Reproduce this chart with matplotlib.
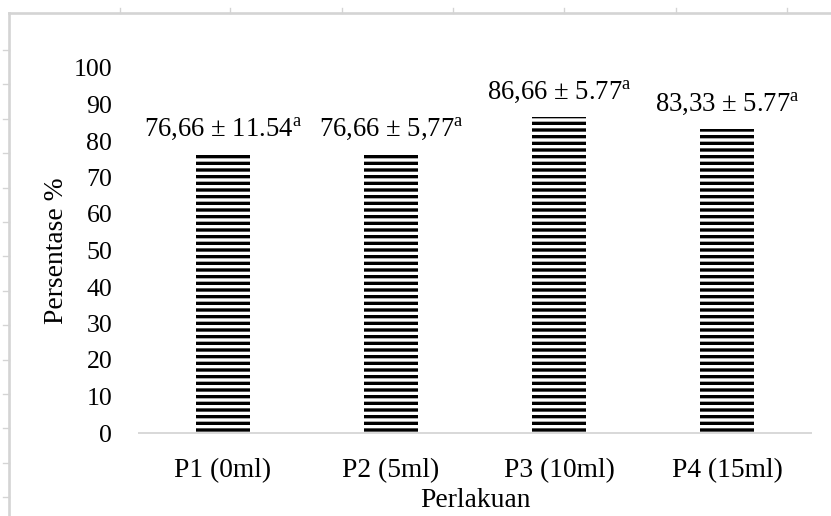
import matplotlib.pyplot as plt
from matplotlib.lines import Line2D

kategori = ["P1 (0ml)", "P2 (5ml)", "P3 (10ml)", "P4 (15ml)"]
persentase = [76.66, 76.66, 86.66, 83.33]
label_bar = [r"76,66 ± 11.54$^{\mathrm{a}}$", r"76,66 ± 5,77$^{\mathrm{a}}$",
             r"86,66 ± 5.77$^{\mathrm{a}}$", r"83,33 ± 5.77$^{\mathrm{a}}$"]
yticks = [0, 10, 20, 30, 40, 50, 60, 70, 80, 90, 100]

plt.rcParams['font.family'] = ['Liberation Serif', 'DejaVu Serif']
plt.rcParams['mathtext.fontset'] = 'custom'
plt.rcParams['mathtext.rm'] = 'Liberation Serif'
plt.rcParams['hatch.linewidth'] = 2.0

W, H, DPI = 831, 516, 120
fig = plt.figure(figsize=(W / DPI, H / DPI), dpi=DPI)
ax = fig.add_axes([139 / W, 83 / H, 672 / W, 365 / H])

x = range(len(kategori))
ax.bar(x, persentase, width=0.32, color="white", edgecolor="black",
       linewidth=0, hatch="---")
for i, v in enumerate(persentase):
    ax.annotate(label_bar[i], (i, v), xytext=(0, 7), textcoords="offset points",
                ha="center", va="bottom", fontsize=16)

ax.set_xlim(-0.5, len(kategori) - 0.5)
ax.set_ylim(0, 100)
ax.set_yticks(yticks)
ax.set_xticks(list(x))
ax.set_xticklabels(kategori)
ax.tick_params(axis="both", length=0)
ax.tick_params(axis="x", pad=15, labelsize=16.5)
ax.tick_params(axis="y", pad=16, labelsize=15.5)
ax.set_xlabel("Perlakuan", fontsize=16.5, labelpad=3)
ax.set_ylabel("Persentase %", fontsize=16.5, labelpad=3)
for s in ["top", "right", "left"]:
    ax.spines[s].set_visible(False)
ax.spines["bottom"].set_color("#d9d9d9")
ax.spines["bottom"].set_linewidth(1.2)

# bingkai tangkapan layar (garis abu-abu di atas dan kiri)
abu = "#d4d4d4"
fig.add_artist(Line2D([9 / W, 1], [1 - 13 / H, 1 - 13 / H], color=abu, lw=1.6))
fig.add_artist(Line2D([9 / W, 9 / W], [0, 1 - 13 / H], color=abu, lw=1.6))
for px in [120, 230, 342, 453, 564, 676, 787]:
    fig.add_artist(Line2D([px / W, px / W], [1 - 8 / H, 1 - 13 / H], color=abu, lw=0.8))
py = 50
while py < H:
    fig.add_artist(Line2D([3 / W, 9 / W], [1 - py / H, 1 - py / H], color=abu, lw=0.8))
    py += 34.4

fig.savefig("out.png", dpi=DPI)
